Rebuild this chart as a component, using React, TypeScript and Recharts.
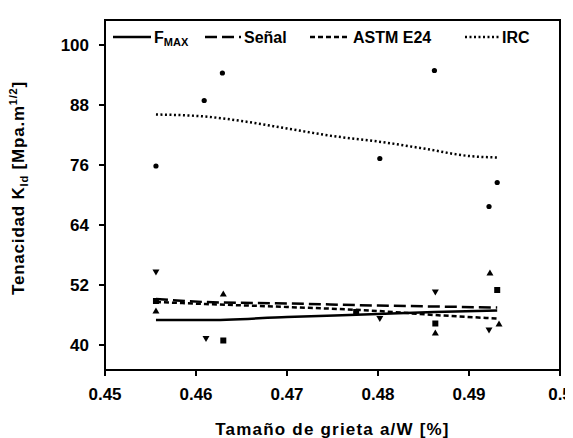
import React from 'react';
import {
  ComposedChart,
  Line,
  Scatter,
  XAxis,
  YAxis,
  ReferenceArea,
} from 'recharts';

// curvas de ajuste
const fmaxLine = [
  { x: 0.4556, y: 45.0 },
  { x: 0.461, y: 45.0 },
  { x: 0.47, y: 45.6 },
  { x: 0.48, y: 46.2 },
  { x: 0.4862, y: 46.6 },
  { x: 0.4931, y: 46.9 },
];
const senalLine = [
  { x: 0.4556, y: 49.2 },
  { x: 0.461, y: 48.6 },
  { x: 0.47, y: 48.3 },
  { x: 0.48, y: 47.9 },
  { x: 0.4862, y: 47.7 },
  { x: 0.4931, y: 47.5 },
];
const astmLine = [
  { x: 0.4556, y: 48.6 },
  { x: 0.461, y: 48.2 },
  { x: 0.47, y: 47.6 },
  { x: 0.48, y: 46.8 },
  { x: 0.4862, y: 46.0 },
  { x: 0.4931, y: 45.3 },
];
const ircLine = [
  { x: 0.4556, y: 86.1 },
  { x: 0.461, y: 85.7 },
  { x: 0.465, y: 84.8 },
  { x: 0.47, y: 83.3 },
  { x: 0.475, y: 81.8 },
  { x: 0.48, y: 80.7 },
  { x: 0.485, y: 79.3 },
  { x: 0.49, y: 77.8 },
  { x: 0.4931, y: 77.5 },
];

// puntos medidos
const ircPts = [
  { x: 0.4556, y: 75.8 },
  { x: 0.4609, y: 88.9 },
  { x: 0.4629, y: 94.4 },
  { x: 0.4802, y: 77.3 },
  { x: 0.4862, y: 94.9 },
  { x: 0.4931, y: 72.5 },
  { x: 0.4922, y: 67.7 },
];
const fmaxPts = [
  { x: 0.4556, y: 54.5 },
  { x: 0.4611, y: 41.2 },
  { x: 0.4802, y: 45.2 },
  { x: 0.4863, y: 50.5 },
  { x: 0.4922, y: 42.9 },
];
const senalPts = [
  { x: 0.4556, y: 46.9 },
  { x: 0.463, y: 50.3 },
  { x: 0.4863, y: 42.5 },
  { x: 0.4923, y: 54.5 },
  { x: 0.4933, y: 44.3 },
];
const astmPts = [
  { x: 0.4556, y: 48.8 },
  { x: 0.463, y: 40.9 },
  { x: 0.4776, y: 46.6 },
  { x: 0.4863, y: 44.3 },
  { x: 0.4931, y: 51.0 },
];

const xTicks = [0.45, 0.46, 0.47, 0.48, 0.49, 0.5];
const yTicks = [40, 52, 64, 76, 88, 100];
const X_DOMAIN = [0.45, 0.5];
const Y_DOMAIN = [35, 105];

const FONT = '"Liberation Sans", Arial, sans-serif';

const Circle = (p: any) => <circle cx={p.cx} cy={p.cy} r={2.6} fill="#000" />;
const TriDown = (p: any) => (
  <path d={`M${p.cx - 3.5},${p.cy - 3} L${p.cx + 3.5},${p.cy - 3} L${p.cx},${p.cy + 3} Z`} fill="#000" />
);
const TriUp = (p: any) => (
  <path d={`M${p.cx - 3.5},${p.cy + 3} L${p.cx + 3.5},${p.cy + 3} L${p.cx},${p.cy - 3} Z`} fill="#000" />
);
const Square = (p: any) => <rect x={p.cx - 3} y={p.cy - 3} width={6} height={6} fill="#000" />;

const legendItems = [
  { label: 'F', sub: 'MAX', dash: undefined, x: 113, w: 38 },
  { label: 'Señal', sub: '', dash: '12 5', x: 205, w: 36 },
  { label: 'ASTM E24', sub: '', dash: '5 3', x: 310, w: 40 },
  { label: 'IRC', sub: '', dash: '2 2.5', x: 465, w: 34 },
];

// leyenda dentro del área del gráfico
function LegendBox() {
  return (
    <svg
      width={573}
      height={60}
      style={{ position: 'absolute', left: 0, top: 0, fontFamily: FONT, pointerEvents: 'none' }}
    >
      {legendItems.map((it) => (
        <g key={it.label}>
          <line x1={it.x} x2={it.x + it.w} y1={37} y2={37} stroke="#000" strokeWidth={2.5} strokeDasharray={it.dash} />
          <text x={it.x + it.w + 3} y={43} fontSize={16} fontWeight="bold">
            {it.label}
            {it.sub && (
              <tspan fontSize={11} dy={3}>
                {it.sub}
              </tspan>
            )}
          </text>
        </g>
      ))}
    </svg>
  );
}

const YLabel = () => (
  <text
    transform="translate(24,188) rotate(-90)"
    textAnchor="middle"
    fontSize={17}
    fontWeight="bold"
    fontFamily={FONT}
    letterSpacing={0.8}
  >
    Tenacidad K
    <tspan fontSize={11} dy={4}>Id</tspan>
    <tspan dy={-4}>{'  [Mpa.m'}</tspan>
    <tspan fontSize={11} dy={-7}>1/2</tspan>
    <tspan dy={7}>]</tspan>
  </text>
);

export default function App() {
  const tickStyle = { fontSize: 17, fontWeight: 'bold', fill: '#000', fontFamily: FONT };
  return (
    <div style={{ position: 'relative', margin: '-8px 0 0 -8px', width: 573, height: 438, background: '#fff' }}>
      <ComposedChart width={573} height={438} margin={{ top: 20, right: 13, bottom: 67, left: 45 }}>
        <XAxis
          type="number"
          dataKey="x"
          domain={X_DOMAIN}
          ticks={xTicks}
          allowDataOverflow
          stroke="#000"
          strokeWidth={2}
          tickSize={6}
          tick={tickStyle}
          tickMargin={12}
          label={{
            value: 'Tamaño de grieta a/W [%]',
            position: 'insideBottom',
            offset: -64,
            fontSize: 17,
            fontWeight: 'bold',
            fill: '#000',
            fontFamily: FONT,
            letterSpacing: 1.2,
          }}
          height={1}
        />
        <YAxis
          type="number"
          domain={Y_DOMAIN}
          ticks={yTicks}
          allowDataOverflow
          width={60}
          stroke="#000"
          strokeWidth={2}
          tickSize={6}
          tick={tickStyle}
          tickMargin={10}
          label={<YLabel />}
        />
        {/* marco del área de trazado */}
        <ReferenceArea
          x1={X_DOMAIN[0]}
          x2={X_DOMAIN[1]}
          y1={Y_DOMAIN[0]}
          y2={Y_DOMAIN[1]}
          fill="none"
          fillOpacity={0}
          stroke="#000"
          strokeWidth={2}
          strokeOpacity={1}
          ifOverflow="visible"
        />
        <Line data={fmaxLine} dataKey="y" type="monotone" stroke="#000" strokeWidth={2.5} dot={false} isAnimationActive={false} />
        <Line data={senalLine} dataKey="y" type="monotone" stroke="#000" strokeWidth={2.5} strokeDasharray="12 5" dot={false} isAnimationActive={false} />
        <Line data={astmLine} dataKey="y" type="monotone" stroke="#000" strokeWidth={2.5} strokeDasharray="5 3" dot={false} isAnimationActive={false} />
        <Line data={ircLine} dataKey="y" type="monotone" stroke="#000" strokeWidth={2.5} strokeDasharray="2 2.5" dot={false} isAnimationActive={false} />
        <Scatter data={ircPts} dataKey="y" shape={Circle} isAnimationActive={false} />
        <Scatter data={fmaxPts} dataKey="y" shape={TriDown} isAnimationActive={false} />
        <Scatter data={senalPts} dataKey="y" shape={TriUp} isAnimationActive={false} />
        <Scatter data={astmPts} dataKey="y" shape={Square} isAnimationActive={false} />
      </ComposedChart>
      <LegendBox />
    </div>
  );
}
